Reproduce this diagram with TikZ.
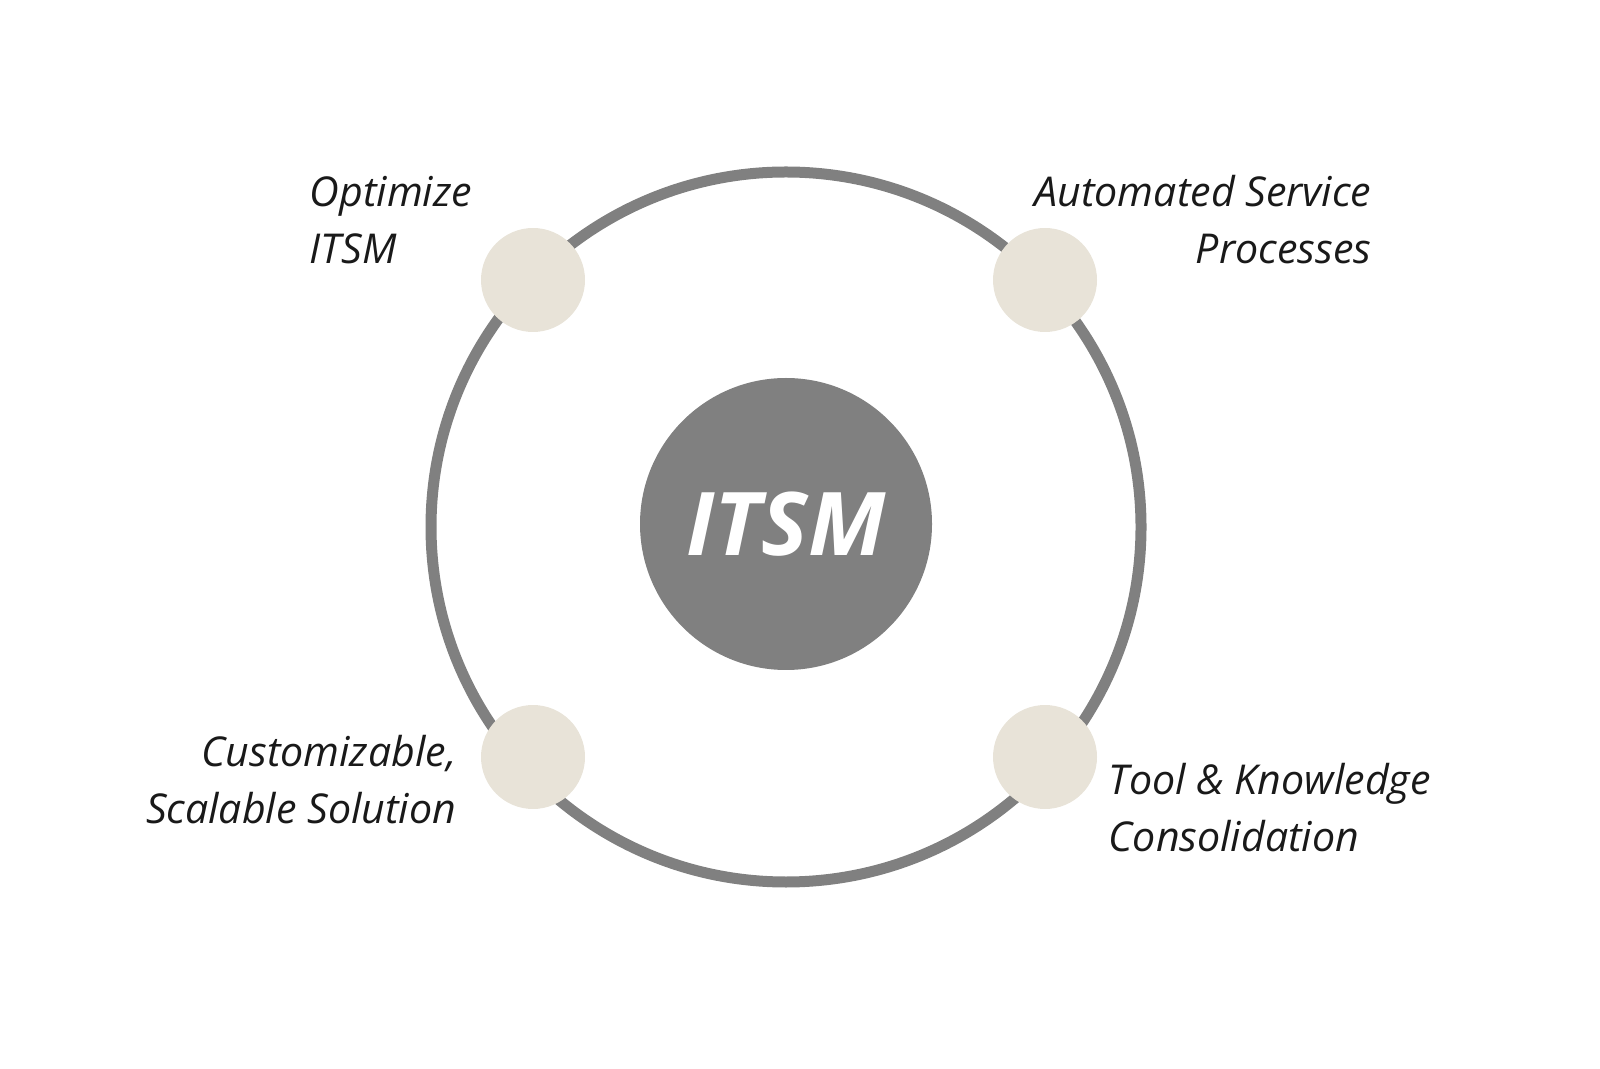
\documentclass[tikz,border=0pt]{standalone}
\usepackage{fontspec}
\setmainfont{Open Sans}
\definecolor{ringgray}{HTML}{808080}
\definecolor{dotbeige}{HTML}{E8E3D8}
\tikzset{
  dot/.style={circle, fill=dotbeige, minimum size=1.04cm, inner sep=0pt},
  label text/.style={font=\fontsize{11.7}{16.2}\selectfont\itshape, text=black!90, inner sep=0pt}
}
\begin{document}
\begin{tikzpicture}
  \useasboundingbox (0,0) rectangle (16,-10.69);
  \coordinate (C) at (7.86,-5.27);
  \draw [ringgray, line width=0.11cm] (C) circle (3.55);
  \node [circle, fill=ringgray, minimum size=2.92cm, inner sep=0pt,
    font=\fontsize{25}{30}\selectfont\bfseries\itshape, text=white] (hub) at (7.86,-5.24) {ITSM};
  \node [dot] (d1) at (5.33,-2.80) {};
  \node [dot] (d2) at (10.45,-2.80) {};
  \node [dot] (d3) at (5.33,-7.57) {};
  \node [dot] (d4) at (10.45,-7.57) {};
  \node [label text, anchor=west, align=left] (t1) at (3.09,-2.20) {Optimize\\ITSM};
  \node [label text, anchor=east, align=right] (t2) at (13.72,-2.20) {Automated Service\\Processes};
  \node [label text, anchor=east, align=right] (t3) at (4.57,-7.80) {Customizable,\\Scalable Solution};
  \node [label text, anchor=west, align=left] (t4) at (11.08,-8.08) {Tool \& Knowledge\\Consolidation};
\end{tikzpicture}
\end{document}
